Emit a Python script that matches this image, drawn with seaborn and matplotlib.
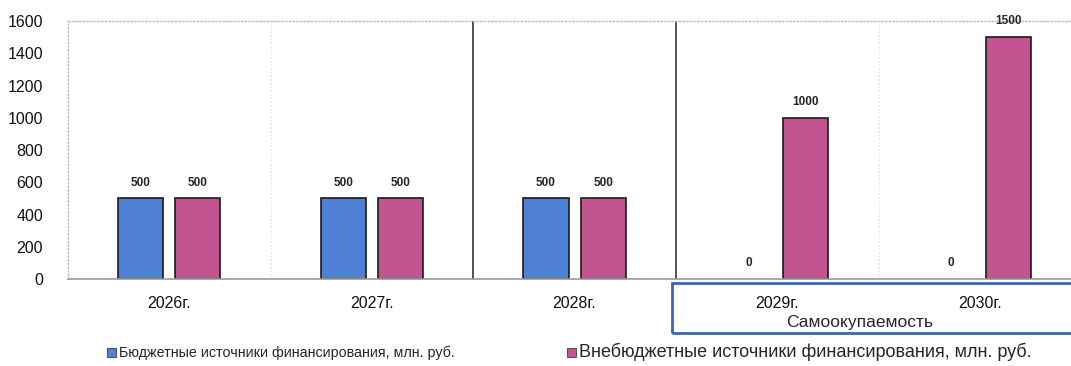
import pandas as pd
import numpy as np
import matplotlib
matplotlib.use('Agg')
import matplotlib.pyplot as plt
import seaborn as sns
from matplotlib.patches import Rectangle

years = ['2026г.', '2027г.', '2028г.', '2029г.', '2030г.']
budget = [500, 500, 500, 0, 0]
extra_budget = [500, 500, 500, 1000, 1500]
series_names = ['Бюджетные источники финансирования, млн. руб.',
                'Внебюджетные источники финансирования, млн. руб.']
colors = ['#4f80d6', '#c2548f']
y_ticks = [0, 200, 400, 600, 800, 1000, 1200, 1400, 1600]
box_label = 'Самоокупаемость'

# long form table for seaborn
df = pd.DataFrame({
    'Год': years * 2,
    'Значение': budget + extra_budget,
    'Источник': [series_names[0]] * len(years) + [series_names[1]] * len(years),
})

sns.set_style('white')
plt.rcParams['font.family'] = ['Liberation Sans', 'DejaVu Sans']

fig = plt.figure(figsize=(10.71, 3.66), dpi=100)
ax = fig.add_axes([0.0635, 0.2377, 0.9365, 0.7049])

sns.barplot(data=df, x='Год', y='Значение', hue='Источник', palette=colors,
            saturation=1, width=0.564, gap=0.21, edgecolor='#1a1a1a',
            linewidth=1.2, ax=ax, legend=True)

# no outline on empty bars
for p in ax.patches:
    if p.get_height() == 0:
        p.set_linewidth(0)

for cont in ax.containers:
    ax.bar_label(cont, fmt='%d', padding=7, fontsize=8.5, fontweight='bold')

ax.set_ylim(0, 1600)
ax.set_xlim(-0.5, 4.45)
ax.set_yticks(y_ticks)
ax.set_xlabel('')
ax.set_ylabel('')
ax.tick_params(axis='y', length=0, pad=18, labelsize=11.5, labelcolor='#111111')
ax.tick_params(axis='x', length=0, pad=12, labelsize=11.5, labelcolor='#111111')

# frame
for side in ['left', 'top']:
    ax.spines[side].set_color('#bbbbbb')
    ax.spines[side].set_linestyle(':')
    ax.spines[side].set_linewidth(1)
ax.spines['right'].set_visible(False)
ax.spines['bottom'].set_color('#999999')
ax.spines['bottom'].set_linewidth(1.2)

# category separators
ax.axvline(0.5, color='#dddddd', lw=1, ls=':')
ax.axvline(1.5, color='#333333', lw=1.2)
ax.axvline(2.5, color='#333333', lw=1.2)
ax.axvline(3.5, color='#dddddd', lw=1, ls=':')

# box around self-financing years
box = Rectangle((0.6275, 0.0902), 0.38, 0.1366, transform=fig.transFigure,
                fill=False, edgecolor='#3f63b0', linewidth=2, clip_on=False)
fig.patches.append(box)
fig.text(0.803, 0.12, box_label, ha='center', va='center', fontsize=12.5)

handles, labels = ax.get_legend_handles_labels()
ax.get_legend().remove()
leg = fig.legend(handles, labels, loc='center left', bbox_to_anchor=(0.088, 0.038),
                 ncol=2, frameon=False, fontsize=10.3, handlelength=0.6,
                 handleheight=0.6, handletextpad=0.2, columnspacing=7.9)
leg.get_texts()[1].set_fontsize(13)
for h in leg.legend_handles:
    h.set_edgecolor('#555555')
    h.set_linewidth(0.8)

fig.savefig('out.png', dpi=100)
